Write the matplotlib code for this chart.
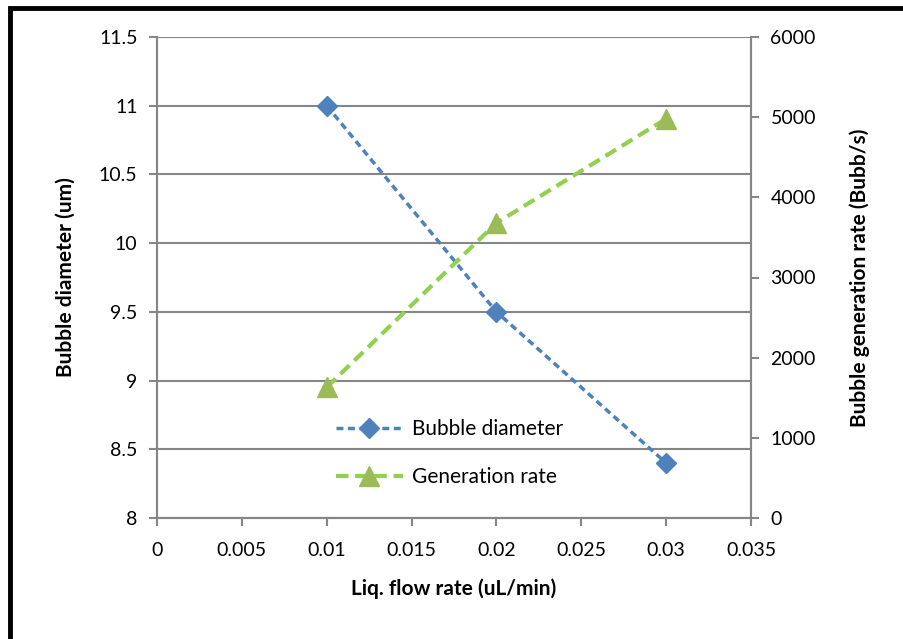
import matplotlib
matplotlib.use("Agg")
import matplotlib.pyplot as plt
from matplotlib.patches import Rectangle
from matplotlib.ticker import FixedLocator

plt.rcParams['font.family'] = ['Lato', 'DejaVu Sans']

flow = [0.01, 0.02, 0.03]
diameter = [11.0, 9.5, 8.4]
gen_rate = [1630, 3680, 4980]
x_ticks = [0, 0.005, 0.01, 0.015, 0.02, 0.025, 0.03, 0.035]
x_tick_labels = ["0", "0.005", "0.01", "0.015", "0.02", "0.025", "0.03", "0.035"]
left_ticks = [8, 8.5, 9, 9.5, 10, 10.5, 11, 11.5]
left_tick_labels = ["8", "8.5", "9", "9.5", "10", "10.5", "11", "11.5"]
right_ticks = [0, 1000, 2000, 3000, 4000, 5000, 6000]

fig = plt.figure(figsize=(9.04, 6.39), dpi=100)
ax = fig.add_axes([157/904, 1-518/639, (751-157)/904, (518-37)/639])
ax2 = ax.twinx()

grid_c = '#868686'
ax.set_xlim(0, 0.035)
ax.set_ylim(8, 11.5)
ax2.set_ylim(0, 6000)
ax.yaxis.set_major_locator(FixedLocator(left_ticks))
ax.set_yticklabels(left_tick_labels)
ax.set_xticks(x_ticks)
ax.set_xticklabels(x_tick_labels)
ax2.set_yticks(right_ticks)
ax2.set_yticklabels([str(v) for v in right_ticks])
ax.grid(axis='y', color=grid_c, lw=1.5)
ax.set_axisbelow(True)

for a in (ax, ax2):
    a.spines['top'].set_visible(False)
    for s in ('left', 'right', 'bottom'):
        a.spines[s].set_color(grid_c)
        a.spines[s].set_linewidth(1.5)
    a.tick_params(colors=grid_c, labelcolor='black', labelsize=14, width=1.5, length=6,
                  direction='out', pad=8)
ax.tick_params(axis='x', pad=11)

l1, = ax.plot(flow, diameter, ls=(0, (2.0, 1.3)), color='#4F81BD', lw=2.5,
              marker='D', markersize=10, markerfacecolor='#4F81BD', markeredgecolor='#4F81BD',
              label='Bubble diameter')
l2, = ax2.plot(flow, gen_rate, ls=(0, (3, 1.6)), color='#92D050', lw=3,
               marker='^', markersize=14, markerfacecolor='#9BBB59', markeredgecolor='#9BBB59',
               label='Generation rate')

ax.set_xlabel('Liq. flow rate (uL/min)', fontsize=15, fontweight='bold', labelpad=14)
ax.set_ylabel('Bubble diameter (um)', fontsize=15, fontweight='bold', labelpad=17)
ax2.set_ylabel('Bubble generation rate (Bubb/s)', fontsize=15, fontweight='bold', labelpad=24)

leg = ax2.legend([l1, l2], ['Bubble diameter', 'Generation rate'], loc='upper left',
                 bbox_to_anchor=(0.27, 0.245), frameon=False, fontsize=15, handlelength=3.2,
                 labelspacing=1.35, handletextpad=0.45)

fig.patches.append(Rectangle((10/904, -0.05), 1.2, 1-8/639+0.05, transform=fig.transFigure,
                             fill=False, edgecolor='black', lw=3.5))
fig.savefig('out.png', dpi=100)
